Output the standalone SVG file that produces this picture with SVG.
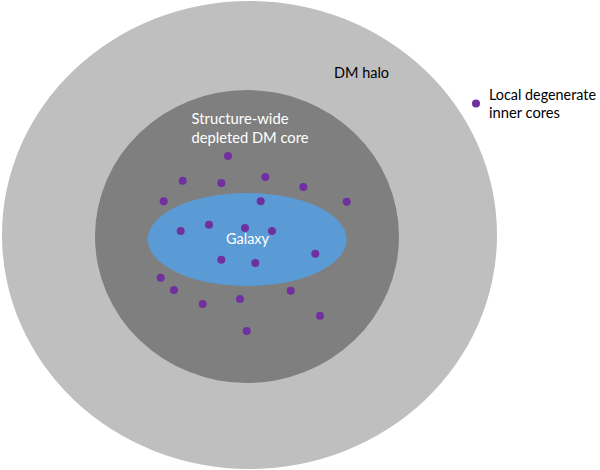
<svg xmlns="http://www.w3.org/2000/svg" width="600" height="470" viewBox="0 0 600 470">
<style>
.lbl{font-family:Lato,"Open Sans","Liberation Sans",sans-serif;font-size:15.5px}
.leg{font-size:14.5px}
.w{fill:#ffffff}
.k{fill:#000000}
.dot{fill:#7030A0}
</style>
<rect width="600" height="470" fill="#ffffff"/>
<g id="halo">
<ellipse cx="249.5" cy="235" rx="247.5" ry="234" fill="#BFBFBF"/>
<text class="lbl k" x="334" y="78" textLength="55" lengthAdjust="spacingAndGlyphs">DM halo</text>
</g>
<g id="core">
<ellipse cx="247" cy="236.5" rx="152" ry="146.5" fill="#7F7F7F"/>
<text class="lbl w" x="191.5" y="124" textLength="97" lengthAdjust="spacingAndGlyphs">Structure-wide</text>
<text class="lbl w" x="191.5" y="143" textLength="117" lengthAdjust="spacingAndGlyphs">depleted DM core</text>
</g>
<g id="galaxy">
<ellipse cx="247.2" cy="239.5" rx="99.5" ry="46.5" fill="#5B9BD5"/>
<text class="lbl w" x="226" y="244" textLength="43" lengthAdjust="spacingAndGlyphs">Galaxy</text>
</g>
<g id="inner-cores">
<circle class="dot" cx="228" cy="156" r="4"/>
<circle class="dot" cx="182.7" cy="180.7" r="4"/>
<circle class="dot" cx="221.3" cy="183" r="4"/>
<circle class="dot" cx="265.3" cy="177" r="4"/>
<circle class="dot" cx="303.3" cy="187" r="4"/>
<circle class="dot" cx="163.7" cy="201.3" r="4"/>
<circle class="dot" cx="260.7" cy="201.3" r="4"/>
<circle class="dot" cx="346.7" cy="201.7" r="4"/>
<circle class="dot" cx="180.7" cy="231" r="4"/>
<circle class="dot" cx="209" cy="224.7" r="4"/>
<circle class="dot" cx="245" cy="228" r="4"/>
<circle class="dot" cx="272" cy="231" r="4"/>
<circle class="dot" cx="315.3" cy="253.7" r="4"/>
<circle class="dot" cx="221.3" cy="259.7" r="4"/>
<circle class="dot" cx="255.3" cy="263" r="4"/>
<circle class="dot" cx="160.7" cy="277.7" r="4"/>
<circle class="dot" cx="174" cy="290" r="4"/>
<circle class="dot" cx="202.7" cy="304" r="4"/>
<circle class="dot" cx="240" cy="299" r="4"/>
<circle class="dot" cx="290.7" cy="290.7" r="4"/>
<circle class="dot" cx="320" cy="315.7" r="4"/>
<circle class="dot" cx="246.7" cy="331" r="4"/>
</g>
<g id="legend">
<circle class="dot" cx="476" cy="103.5" r="4"/>
<text class="lbl leg k" x="489" y="99.5" textLength="107" lengthAdjust="spacingAndGlyphs">Local degenerate</text>
<text class="lbl leg k" x="489" y="118" textLength="71" lengthAdjust="spacingAndGlyphs">inner cores</text>
</g>
</svg>
